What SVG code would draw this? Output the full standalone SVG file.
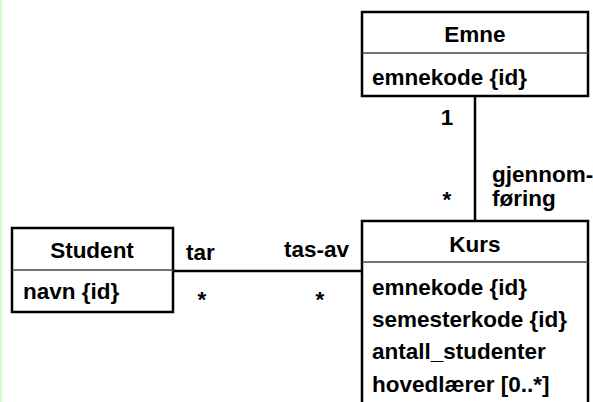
<svg xmlns="http://www.w3.org/2000/svg" width="593" height="402" viewBox="0 0 593 402">
  <style>
    .box { fill: #ffffff; stroke: #000000; stroke-width: 2.5; }
    .div { stroke: #444444; stroke-width: 1.5; }
    .edge { stroke: #000000; stroke-width: 2.5; fill: none; }
    text { font-family: "Liberation Sans", Arial, sans-serif; font-weight: bold; font-size: 22.5px; fill: #000000; }
    .c { text-anchor: middle; }
  </style>
  <rect x="0" y="0" width="593" height="402" fill="#ffffff"/>
  <rect x="0" y="0" width="2" height="402" fill="#ccffcc"/>

  <g id="connectors">
    <line class="edge" x1="475" y1="96" x2="475" y2="221"/>
    <line class="edge" x1="173" y1="271" x2="362" y2="271"/>
    <text class="c" x="447" y="125">1</text>
    <text class="c" x="447" y="207">*</text>
    <text x="492" y="182">gjennom-</text>
    <text x="492" y="206">føring</text>
    <text x="186" y="260">tar</text>
    <text x="284" y="257">tas-av</text>
    <text class="c" x="202" y="307">*</text>
    <text class="c" x="320" y="307">*</text>
  </g>

  <g id="emne">
    <rect class="box" x="362" y="12" width="226" height="84"/>
    <line class="div" x1="362" y1="53" x2="588" y2="53"/>
    <text class="c" x="475" y="42">Emne</text>
    <text x="372" y="85">emnekode {id}</text>
  </g>

  <g id="student">
    <rect class="box" x="12" y="228" width="161" height="84"/>
    <line class="div" x1="12" y1="270" x2="173" y2="270"/>
    <text class="c" x="92" y="258">Student</text>
    <text x="23" y="299">navn {id}</text>
  </g>

  <g id="kurs">
    <rect class="box" x="362" y="221" width="226" height="190"/>
    <line class="div" x1="362" y1="262" x2="588" y2="262"/>
    <text class="c" x="475" y="252">Kurs</text>
    <text x="372" y="295">emnekode {id}</text>
    <text x="372" y="327">semesterkode {id}</text>
    <text x="372" y="359">antall_studenter</text>
    <text x="372" y="392">hovedlærer [0..*]</text>
  </g>
</svg>
